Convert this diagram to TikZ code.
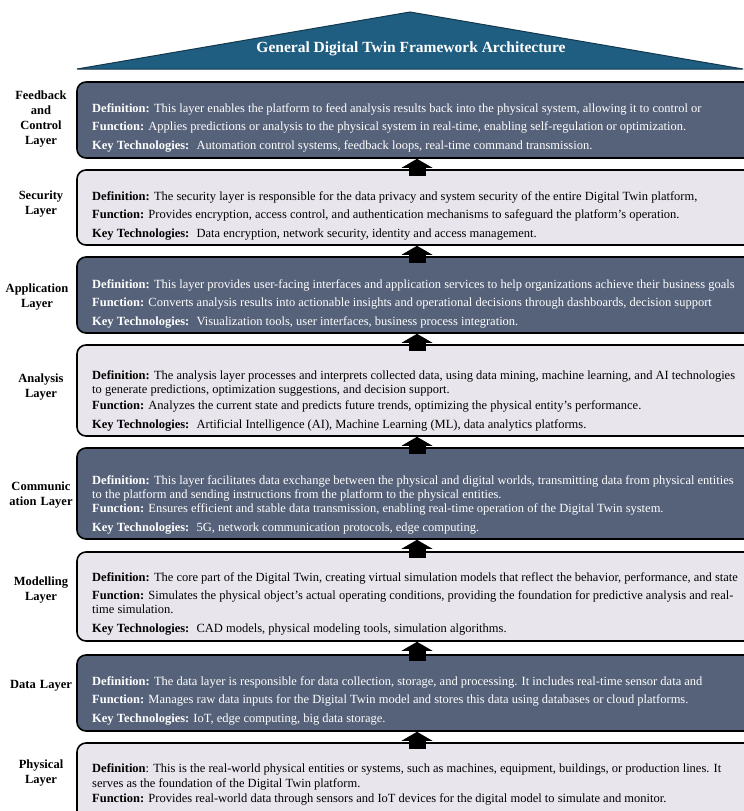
\documentclass[tikz,border=0pt]{standalone}
\usepackage{fontspec}
\setmainfont{Liberation Serif}
\usetikzlibrary{arrows.meta,positioning}

\definecolor{roofblue}{HTML}{1F5E80}
\definecolor{slate}{HTML}{56627A}
\definecolor{mist}{HTML}{E8E6EC}

\tikzset{
  layer/.style={draw=black, line width=1.6pt, rounded corners=9pt, minimum width=680pt, inner sep=0pt},
  darklayer/.style={layer, fill=slate},
  lightlayer/.style={layer, fill=mist},
  lbl/.style={font=\fontsize{12.5}{15}\selectfont\bfseries, align=center, text width=76pt, inner sep=0pt},
  body/.style={anchor=base west, align=left, inner sep=0pt, font=\fontsize{12.5}{14}\selectfont},
  darkbody/.style={body, text=white},
  uparrow/.style={line width=17pt, -{Triangle[width=31pt,length=9pt,line width=0pt]}},
}
\newcommand{\gap}{\\[4.5pt]}
\newcommand{\Def}{\textbf{Definition:}}
\newcommand{\Fun}{\textbf{Function:}}
\newcommand{\Key}{\textbf{Key Technologies:}}

\begin{document}
\begin{tikzpicture}[x=1pt,y=-1pt]
  \useasboundingbox (0,0) rectangle (744,811);
  \clip (0,0) rectangle (744,811);
  % roof
  \coordinate (roofL) at (77,69);
  \coordinate (roofT) at (410,12);
  \coordinate (roofR) at (743,69);
  \draw[fill=roofblue, draw=roofblue!60!black, line width=1pt] (roofL) -- (roofT) -- (roofR) -- cycle;
  \node[font=\fontsize{15.5}{17}\selectfont\bfseries, text=white] (title) at (411,49) {General Digital Twin Framework Architecture};

  % layer boxes (right side runs past the page)
  \node[darklayer, minimum height=76pt] (feedback) at (417,120) {};
  \node[lightlayer, minimum height=75pt] (security) at (417,207.5) {};
  \node[darklayer, minimum height=76pt] (application) at (417,295) {};
  \node[lightlayer, minimum height=91pt] (analysis) at (417,390.5) {};
  \node[darklayer, minimum height=91pt] (communication) at (417,493.5) {};
  \node[lightlayer, minimum height=89pt] (modelling) at (417,596.5) {};
  \node[darklayer, minimum height=76pt] (data) at (417,693) {};
  \node[lightlayer, minimum height=97pt] (physical) at (417,791.5) {};

  % arrows between layers
  \foreach \lo/\up in {security/feedback, application/security, analysis/application,
      communication/analysis, modelling/communication, data/modelling, physical/data}{
    \draw[uparrow] ([yshift=-7pt]\lo.north) -- (\up.south);
  }

  % layer names
  \node[lbl] (feedback-lbl) at (41,119.5) {Feedback\\and\\Control\\Layer};
  \node[lbl] (security-lbl) at (41,204.5) {Security\\Layer};
  \node[lbl] (application-lbl) at (37,297) {Application\\Layer};
  \node[lbl] (analysis-lbl) at (41,387.5) {Analysis\\Layer};
  \node[lbl] (communication-lbl) at (41,495) {Communic\\ation Layer};
  \node[lbl] (modelling-lbl) at (41,590.5) {Modelling\\Layer};
  \node[lbl] (data-lbl) at (41,686) {Data Layer};
  \node[lbl] (physical-lbl) at (41,773.5) {Physical\\Layer};

  % layer texts (anchored at the baseline of their last line)
  \node[darkbody] (feedback-txt) at (92,149) {\Def{} This layer enables the platform to feed analysis results back into the physical system, allowing it to control or\gap
    \Fun{} Applies predictions or analysis to the physical system in real-time, enabling self-regulation or optimization.\gap
    \Key{}~ Automation control systems, feedback loops, real-time command transmission.};
  \node[body] (security-txt) at (92,237) {\Def{} The security layer is responsible for the data privacy and system security of the entire Digital Twin platform,\gap
    \Fun{} Provides encryption, access control, and authentication mechanisms to safeguard the platform’s operation.\gap
    \Key{}~ Data encryption, network security, identity and access management.};
  \node[darkbody] (application-txt) at (92,325) {\Def{} This layer provides user-facing interfaces and application services to help organizations achieve their business goals\gap
    \Fun{} Converts analysis results into actionable insights and operational decisions through dashboards, decision support\gap
    \Key{}~ Visualization tools, user interfaces, business process integration.};
  \node[body] (analysis-txt) at (92,428) {\Def{} The analysis layer processes and interprets collected data, using data mining, machine learning, and AI technologies\\
    to generate predictions, optimization suggestions, and decision support.\\[2pt]
    \Fun{} Analyzes the current state and predicts future trends, optimizing the physical entity's performance.\gap
    \Key{}~ Artificial Intelligence (AI), Machine Learning (ML), data analytics platforms.};
  \node[darkbody] (communication-txt) at (92,531) {\Def{} This layer facilitates data exchange between the physical and digital worlds, transmitting data from physical entities\\
    to the platform and sending instructions from the platform to the physical entities.\\
    \Fun{} Ensures efficient and stable data transmission, enabling real-time operation of the Digital Twin system.\gap
    \Key{}~ 5G, network communication protocols, edge computing.};
  \node[body] (modelling-txt) at (92,632) {\Def{} The core part of the Digital Twin, creating virtual simulation models that reflect the behavior, performance, and state\gap
    \Fun{} Simulates the physical object’s actual operating conditions, providing the foundation for predictive analysis and real-\\
    time simulation.\gap
    \Key{}~ CAD models, physical modeling tools, simulation algorithms.};
  \node[darkbody] (data-txt) at (92,722) {\Def{} The data layer is responsible for data collection, storage, and processing. It includes real-time sensor data and\gap
    \Fun{} Manages raw data inputs for the Digital Twin model and stores this data using databases or cloud platforms.\gap
    \Key{} IoT, edge computing, big data storage.};
  \node[body] (physical-txt) at (92,802) {\textbf{Definition}: This is the real-world physical entities or systems, such as machines, equipment, buildings, or production lines. It\\[1pt]
    serves as the foundation of the Digital Twin platform.\\[1pt]
    \Fun{} Provides real-world data through sensors and IoT devices for the digital model to simulate and monitor.};
\end{tikzpicture}
\end{document}
